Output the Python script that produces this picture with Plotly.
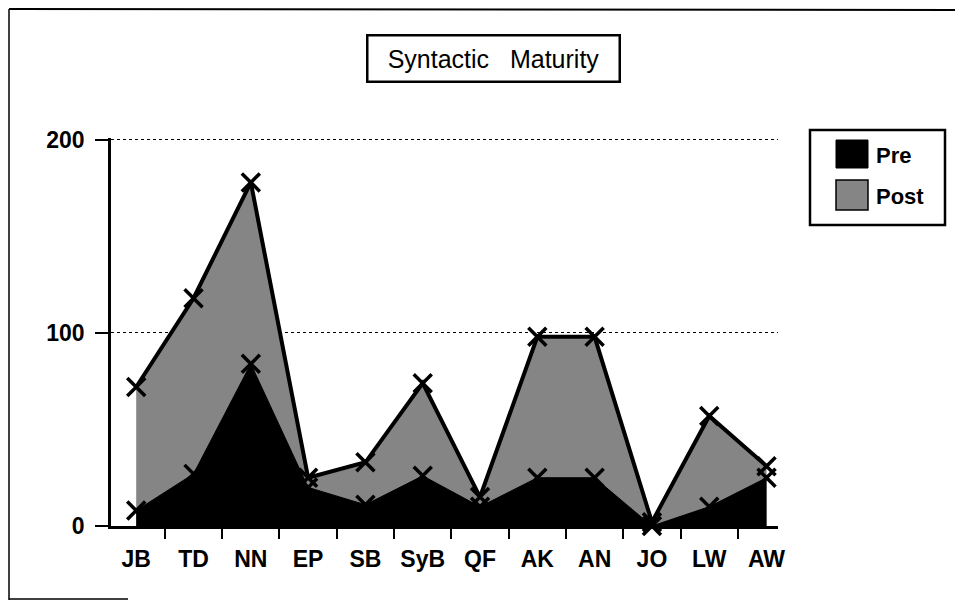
import plotly.graph_objects as go

# data
students = ["JB", "TD", "NN", "EP", "SB", "SyB", "QF", "AK", "AN", "JO", "LW", "AW"]
pre_scores = [8, 27, 84, 20, 11, 26, 10, 25, 25, 0, 10, 25]
post_scores = [72, 118, 178, 25, 33, 74, 15, 98, 98, 2, 57, 31]
series_names = ["Pre", "Post"]
y_ticks = [0, 100, 200]

FONT = "Liberation Sans, Arial, sans-serif"
POST_GREY = "#858585"

# the page puts the figure 8px in from the corner, so work in screen pixels
OFF = 8
W, H = 963 - OFF, 601 - OFF
L, R, T, B = 111, 778, 138, 526   # plot area on screen (y range 0..201)


def px_x(x):
    return (x - L) / (R - L)


def px_y(y):
    return (B - y) / (B - T)


fig = go.Figure()

fig.add_trace(go.Scatter(
    x=students,
    y=post_scores,
    name=series_names[1],
    mode="lines+markers",
    fill="tozeroy",
    fillcolor=POST_GREY,
    line=dict(color="black", width=4),
    marker=dict(symbol="x-thin-open", size=18, line=dict(color="black", width=3.5)),
    cliponaxis=False,
    showlegend=False))

fig.add_trace(go.Scatter(
    x=students,
    y=pre_scores,
    name=series_names[0],
    mode="lines+markers",
    fill="tozeroy",
    fillcolor="black",
    line=dict(color="black", width=1),
    marker=dict(symbol="x-thin-open", size=18, line=dict(color="black", width=3.5)),
    cliponaxis=False,
    showlegend=False))

shapes = [
    # legend box
    dict(type="rect", xref="paper", yref="paper", x0=px_x(810), x1=px_x(945), y0=px_y(225), y1=px_y(130),
         line=dict(color="black", width=2.5)),
    dict(type="rect", xref="paper", yref="paper", x0=px_x(836), x1=px_x(868), y0=px_y(168), y1=px_y(140),
         fillcolor="black", line=dict(color="black", width=1)),
    dict(type="rect", xref="paper", yref="paper", x0=px_x(836), x1=px_x(868), y0=px_y(210), y1=px_y(180),
         fillcolor=POST_GREY, line=dict(color="black", width=1.5)),
    # outer frame of the scan (as near the corner as the page allows)
    dict(type="line", xref="paper", yref="paper", x0=px_x(9), x1=px_x(963), y0=px_y(9), y1=px_y(10),
         line=dict(color="black", width=2)),
    dict(type="line", xref="paper", yref="paper", x0=px_x(9), x1=px_x(9), y0=px_y(9), y1=px_y(600),
         line=dict(color="black", width=1.5)),
    dict(type="line", xref="paper", yref="paper", x0=px_x(9), x1=px_x(128), y0=px_y(599), y1=px_y(599),
         line=dict(color="black", width=1.5)),
]

annotations = [
    dict(text="Syntactic\u00a0\u00a0 Maturity", xref="paper", yref="paper", x=px_x(493), y=px_y(58),
         xanchor="center", yanchor="middle",
         showarrow=False, font=dict(family=FONT, size=25, color="black"),
         bordercolor="black", borderwidth=2.5, width=248, height=42, bgcolor="white"),
    dict(text="<b>%s</b>" % series_names[0], xref="paper", yref="paper", x=px_x(874), y=px_y(156),
         xanchor="left", yanchor="middle", showarrow=False, font=dict(family=FONT, size=22, color="black")),
    dict(text="<b>%s</b>" % series_names[1], xref="paper", yref="paper", x=px_x(874), y=px_y(196),
         xanchor="left", yanchor="middle", showarrow=False, font=dict(family=FONT, size=22, color="black")),
]

fig.update_layout(
    width=W,
    height=H,
    margin=dict(l=L - OFF, r=W - (R - OFF), t=T - OFF, b=H - (B - OFF)),
    paper_bgcolor="white",
    plot_bgcolor="white",
    font=dict(family=FONT, size=23, color="black"),
    showlegend=False,
    shapes=shapes,
    annotations=annotations)

fig.update_xaxes(
    type="category",
    range=[-0.44, 11.2],
    showline=True,
    linecolor="black",
    linewidth=2.5,
    ticks="outside",
    tickson="boundaries",
    ticklen=10,
    tickwidth=2,
    tickcolor="black",
    ticklabelstandoff=11,
    tickangle=0,
    automargin=False,
    showgrid=False,
    tickfont=dict(size=23, weight="bold"))

fig.update_yaxes(
    range=[0, 201],
    tickvals=y_ticks,
    showline=True,
    linecolor="black",
    linewidth=2.5,
    ticks="outside",
    ticklen=13,
    tickwidth=2,
    tickcolor="black",
    ticklabelstandoff=6,
    automargin=False,
    showgrid=True,
    gridcolor="black",
    gridwidth=1,
    griddash="dot",
    zeroline=False,
    tickfont=dict(size=23, weight="bold"))

fig.write_html("out.html")
